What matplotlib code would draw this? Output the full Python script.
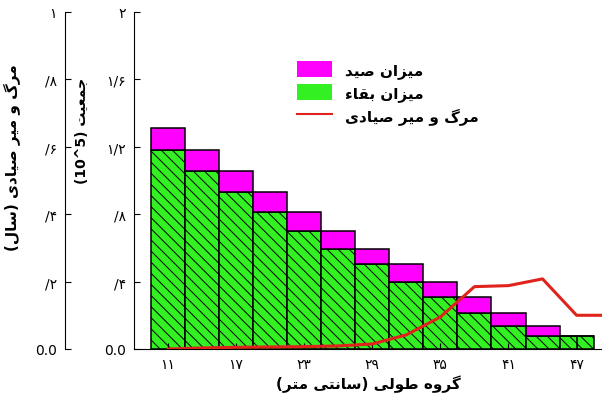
import matplotlib
matplotlib.use("Agg")
import matplotlib.pyplot as plt
from matplotlib.patches import Patch
from matplotlib.lines import Line2D

plt.rcParams["font.family"] = ["DejaVu Sans"]
plt.rcParams["hatch.linewidth"] = 0.7

# length classes (cm) and population per class (x 10^5)
length_class = [11, 14, 17, 20, 23, 26, 29, 32, 35, 38, 41, 44, 47]
survival = [1.18, 1.055, 0.93, 0.815, 0.70, 0.595, 0.505, 0.40, 0.31, 0.215, 0.135, 0.08, 0.08]
catch = [0.13, 0.125, 0.125, 0.115, 0.115, 0.105, 0.09, 0.105, 0.09, 0.095, 0.08, 0.055, 0.0]

# fishing mortality (1/year)
mortality_x = [11, 14, 17, 20, 23, 26, 29, 32, 35, 38, 41, 44, 47, 50]
mortality = [0.0, 0.003, 0.005, 0.006, 0.007, 0.009, 0.015, 0.042, 0.095, 0.185, 0.188, 0.208, 0.10, 0.10]

x_ticks = [11, 17, 23, 29, 35, 41, 47]
pop_ticks = [0, 0.4, 0.8, 1.2, 1.6, 2]
mort_ticks = [0, 0.2, 0.4, 0.6, 0.8, 1]

GREEN = "#33f022"
MAGENTA = "#ff00ff"
RED = "#e0231b"

# contextual forms: isolated, final, initial, medial
FORMS = {
    "ء": ("\uFE80", None, None, None),
    "ا": ("\uFE8D", "\uFE8E", None, None),
    "ب": ("\uFE8F", "\uFE90", "\uFE91", "\uFE92"),
    "ت": ("\uFE95", "\uFE96", "\uFE97", "\uFE98"),
    "ج": ("\uFE9D", "\uFE9E", "\uFE9F", "\uFEA0"),
    "د": ("\uFEA9", "\uFEAA", None, None),
    "ر": ("\uFEAD", "\uFEAE", None, None),
    "ز": ("\uFEAF", "\uFEB0", None, None),
    "س": ("\uFEB1", "\uFEB2", "\uFEB3", "\uFEB4"),
    "ص": ("\uFEB9", "\uFEBA", "\uFEBB", "\uFEBC"),
    "ط": ("\uFEC1", "\uFEC2", "\uFEC3", "\uFEC4"),
    "ع": ("\uFEC9", "\uFECA", "\uFECB", "\uFECC"),
    "ق": ("\uFED5", "\uFED6", "\uFED7", "\uFED8"),
    "ل": ("\uFEDD", "\uFEDE", "\uFEDF", "\uFEE0"),
    "م": ("\uFEE1", "\uFEE2", "\uFEE3", "\uFEE4"),
    "ن": ("\uFEE5", "\uFEE6", "\uFEE7", "\uFEE8"),
    "ه": ("\uFEE9", "\uFEEA", "\uFEEB", "\uFEEC"),
    "و": ("\uFEED", "\uFEEE", None, None),
    "گ": ("\uFB92", "\uFB93", "\uFB94", "\uFB95"),
    "ی": ("\uFBFC", "\uFBFD", "\uFBFE", "\uFBFF"),
}


def joins_next(ch):
    return ch in FORMS and FORMS[ch][2] is not None


def joins_prev(ch):
    return ch in FORMS and FORMS[ch][1] is not None


def rtl(text):
    out = []
    for i, ch in enumerate(text):
        if ch not in FORMS:
            out.append(ch)
            continue
        prev_ch = text[i - 1] if i > 0 else ""
        next_ch = text[i + 1] if i + 1 < len(text) else ""
        p = joins_next(prev_ch) and joins_prev(ch)
        n = joins_next(ch) and joins_prev(next_ch)
        iso, fin, ini, med = FORMS[ch]
        if p and n:
            out.append(med)
        elif p:
            out.append(fin)
        elif n:
            out.append(ini)
        else:
            out.append(iso)
    swap = {"(": ")", ")": "("}
    return "".join(swap.get(c, c) for c in reversed(out))


def fa_digits(s):
    return s.translate(str.maketrans("0123456789", "۰۱۲۳۴۵۶۷۸۹"))


def fa_tick(v):
    if v == 0:
        return "0.0"
    s = f"{v:g}"
    if s.startswith("0."):
        s = s[1:]
    return fa_digits(s.replace(".", "/"))


fig = plt.figure(figsize=(6.02, 4.02), dpi=100)
ax = fig.add_axes([0.2226, 0.1294, 0.7774, 0.8383])

ax.bar(length_class, survival, width=3, color=GREEN, edgecolor="black",
       linewidth=1.1, hatch="\\\\\\")
ax.bar(length_class, catch, bottom=survival, width=3, color=MAGENTA,
       edgecolor="black", linewidth=1.1)
# last class is split in two halves
ax.vlines(length_class[-1], 0, survival[-1], color="black", linewidth=1.1)

ax.set_xlim(8.0, 49.24)
ax.set_ylim(0, 2)
ax.spines["top"].set_visible(False)
ax.spines["right"].set_visible(False)
ax.set_xticks(x_ticks, labels=[fa_digits(str(v)) for v in x_ticks])
ax.set_yticks(pop_ticks, labels=[fa_tick(v) for v in pop_ticks])
ax.tick_params(direction="in", length=4, labelsize=10, pad=6)
ax.set_xlabel(rtl("گروه طولی (سانتی متر)"), fontsize=11, fontweight="bold", labelpad=2)
ax.set_ylabel("(10^5) " + rtl("جمعیت"), fontsize=10, fontweight="bold")
ax.yaxis.set_label_coords(-0.096, 0.65)

ax2 = ax.twinx()
for side in ("right", "top", "bottom"):
    ax2.spines[side].set_visible(False)
ax2.spines["left"].set_visible(True)
ax2.spines["left"].set_position(("outward", 49.7))
ax2.yaxis.set_ticks_position("left")
ax2.yaxis.set_label_position("left")
ax2.plot(mortality_x, mortality, color=RED, linewidth=2.2)
ax2.set_ylim(0, 1)
ax2.set_yticks(mort_ticks, labels=[fa_tick(v) for v in mort_ticks])
ax2.tick_params(direction="in", length=4, labelsize=10, pad=6)
ax2.set_ylabel(rtl("مرگ و میر صیادی (سال)"), fontsize=11, fontweight="bold")
ax2.yaxis.set_label_coords(-0.241, 0.57)

handles = [
    Patch(facecolor=MAGENTA, edgecolor="none"),
    Patch(facecolor=GREEN, edgecolor="none"),
    Line2D([], [], color=RED, linewidth=1.5),
]
labels = [rtl("میزان صید"), rtl("میزان بقاء"), rtl("مرگ و میر صیادی")]
ax2.legend(handles, labels, loc="upper left", bbox_to_anchor=(0.318, 0.895),
           frameon=False, handlelength=2.3, handleheight=1.25, handletextpad=0.9,
           labelspacing=0.4, prop=dict(weight="bold", size=11))

fig.savefig("out.png", dpi=100)
